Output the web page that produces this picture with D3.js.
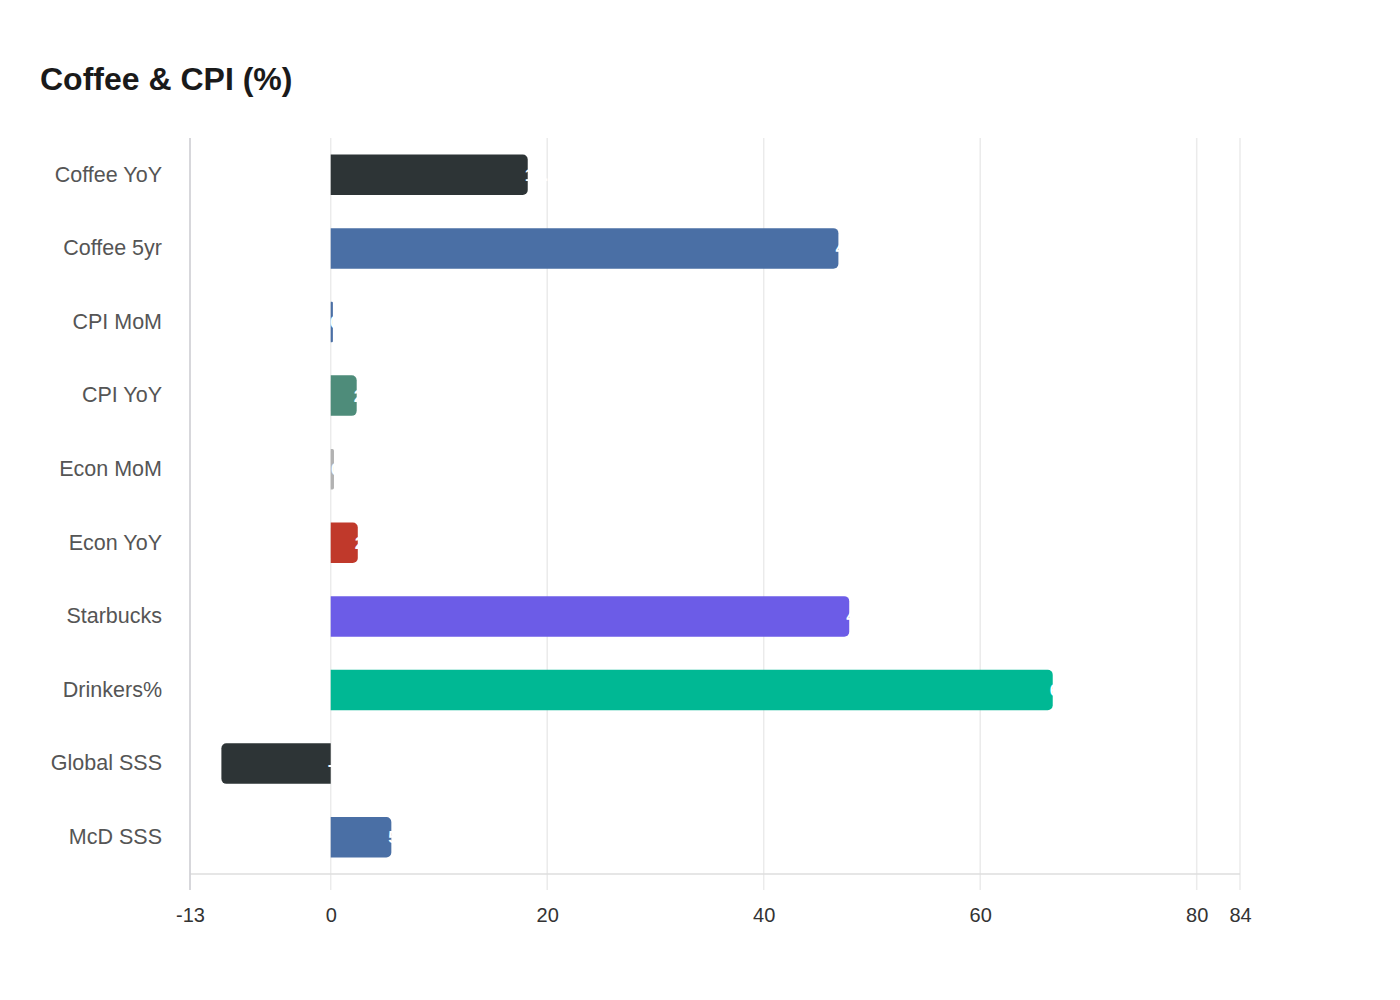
<!DOCTYPE html>
<html><head><meta charset="utf-8">
<script src="https://cdn.jsdelivr.net/npm/d3@7"></script>
<style>body{margin:0;background:#fff;font-family:"Liberation Sans",Arial,sans-serif}</style>
</head><body><svg id="c" width="1400" height="1000"></svg>
<script>
const categories = ["Coffee YoY","Coffee 5yr","CPI MoM","CPI YoY","Econ MoM","Econ YoY","Starbucks","Drinkers%","Global SSS","McD SSS"];
const values = [18.2, 46.9, 0.2, 2.4, 0.3, 2.5, 47.9, 66.7, -10.1, 5.6];
const colors = ["#2d3436","#4a6fa5","#4a6fa5","#4e8c7a","#b2b2b2","#c0392b","#6c5ce7","#00b894","#2d3436","#4a6fa5"];
const xDomain = [-13, 84];
const tickValues = [-13, 0, 20, 40, 60, 80, 84];

const svg = d3.select("#c");
const m = {l:190, r:160, t:138, b:126};
const W = 1400, H = 1000;
const x = d3.scaleLinear().domain(xDomain).range([m.l, W - m.r]);
const y = d3.scaleBand().domain(categories).range([m.t, H - m.b]).paddingInner(0.45).paddingOuter(0.225);

svg.append("text").attr("x",40).attr("y",90).text("Coffee & CPI (%)")
  .attr("font-size",32).attr("font-weight","bold").attr("fill","#1a1a1a");

// grid
svg.append("g").selectAll("line").data(tickValues).join("line")
  .attr("x1",d=>x(d)).attr("x2",d=>x(d)).attr("y1",m.t).attr("y2",H-m.b+16)
  .attr("stroke","#ebebeb").attr("stroke-width",1.5);

// bottom axis line
svg.append("line").attr("x1",m.l).attr("x2",W-m.r).attr("y1",H-m.b).attr("y2",H-m.b)
  .attr("stroke","#dedede").attr("stroke-width",1.5);
// left axis line
svg.append("line").attr("x1",m.l).attr("x2",m.l).attr("y1",m.t).attr("y2",H-m.b+16)
  .attr("stroke","#cfcfd4").attr("stroke-width",1.5);

const xAxis = d3.axisBottom(x).tickValues(tickValues).tickSize(0).tickPadding(34).tickFormat(d=>String(d));
const gx = svg.append("g").attr("transform",`translate(0,${H-m.b})`).call(xAxis);
gx.select(".domain").remove();
gx.selectAll("text").attr("font-size",20).attr("fill","#333").attr("font-family","Liberation Sans, Arial, sans-serif");

const yAxis = d3.axisLeft(y).tickSize(0).tickPadding(28);
const gy = svg.append("g").attr("transform",`translate(${m.l},0)`).call(yAxis);
gy.select(".domain").remove();
gy.selectAll("text").attr("font-size",21.5).attr("fill","#555").attr("font-family","Liberation Sans, Arial, sans-serif");

const data = categories.map((c,i)=>({c, v:values[i], col:colors[i]}));
function barPath(d){
  const x0 = x(0), x1 = x(d.v), y0 = y(d.c), h = y.bandwidth();
  const w = Math.abs(x1-x0);
  const r = Math.min(5, w/2, h/2);
  const p = d3.path();
  if (d.v >= 0){
    p.moveTo(x0, y0); p.lineTo(x1-r, y0); p.arcTo(x1, y0, x1, y0+r, r);
    p.lineTo(x1, y0+h-r); p.arcTo(x1, y0+h, x1-r, y0+h, r); p.lineTo(x0, y0+h); p.closePath();
  } else {
    p.moveTo(x0, y0); p.lineTo(x1+r, y0); p.arcTo(x1, y0, x1, y0+r, r);
    p.lineTo(x1, y0+h-r); p.arcTo(x1, y0+h, x1+r, y0+h, r); p.lineTo(x0, y0+h); p.closePath();
  }
  return p.toString();
}
svg.append("g").selectAll("path").data(data).join("path")
  .attr("d", barPath).attr("fill", d=>d.col);

svg.append("g").selectAll("text").data(data).join("text")
  .attr("x", d=>x(Math.max(0,d.v)) - 3)
  .attr("y", d=>y(d.c)+y.bandwidth()/2)
  .attr("dy","0.35em")
  .attr("font-size",17).attr("font-weight","bold").attr("fill","#fff")
  .text(d=>d.v.toFixed(1));
</script></body></html>
